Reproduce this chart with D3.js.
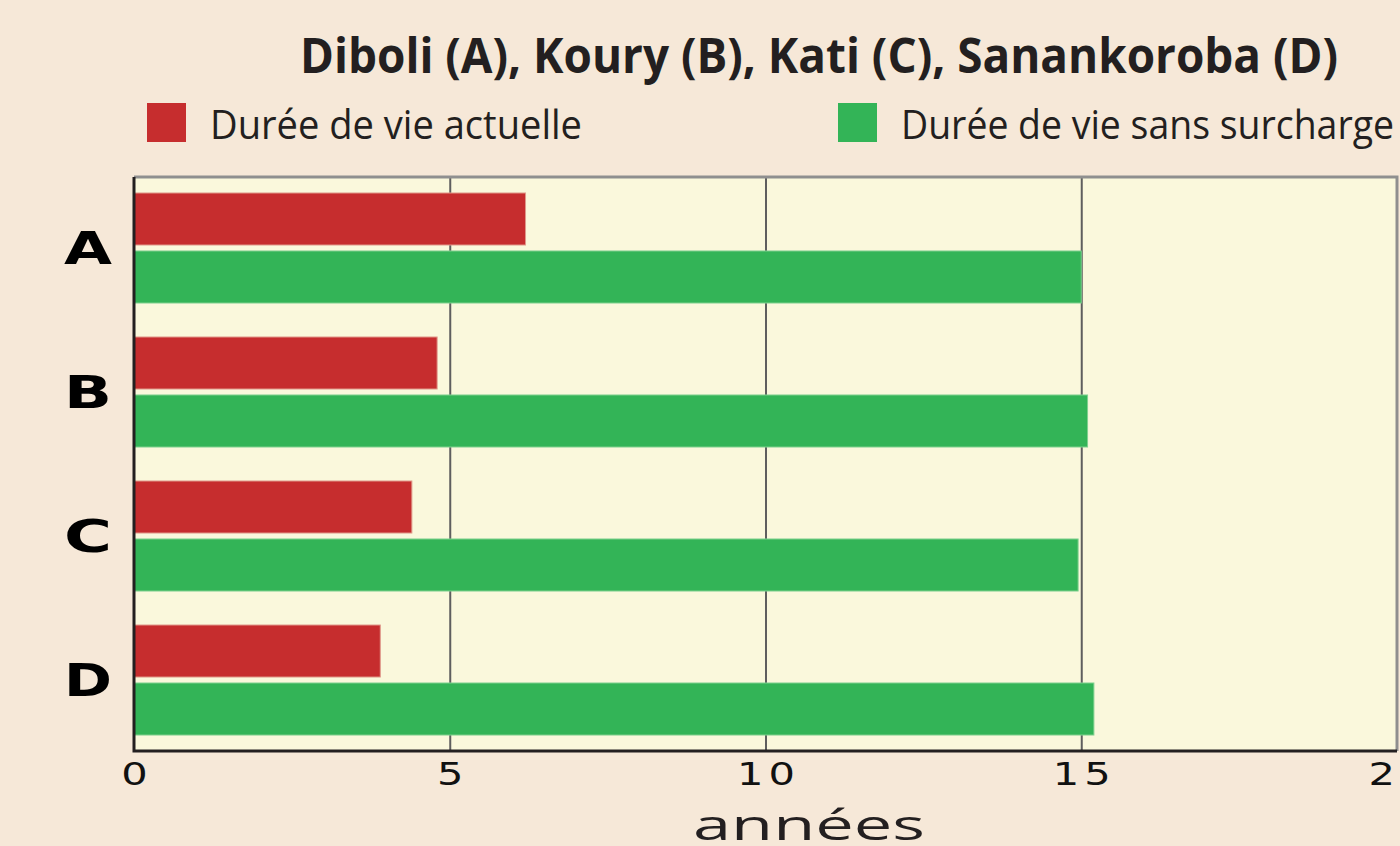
<!DOCTYPE html>
<html>
<head>
<meta charset="utf-8">
<script src="https://cdn.jsdelivr.net/npm/d3@7"></script>
<style>
  body { margin: 0; background: #f6e8d8; overflow: hidden; }
  svg { display: block; }
</style>
</head>
<body>
<svg id="chart" width="1400" height="846"></svg>
<script>
// data
const categories = ["A", "B", "C", "D"];
const seriesNames = ["Durée de vie actuelle", "Durée de vie sans surcharge"];
const actuelle = [6.2, 4.8, 4.4, 3.9];
const sansSurcharge = [15.0, 15.1, 14.95, 15.2];
const xTicks = [0, 5, 10, 15, 20];
const colors = ["#c62d2e", "#33b457"];

const title = "Diboli (A), Koury (B), Kati (C), Sanankoroba (D)";
const xLabel = "années";

var svg = d3.select("#chart");
var margin = {top: 177, left: 134, right: 3, bottom: 95};
var width = 1400, height = 846;

var x = d3.scaleLinear().domain([0, 20]).range([margin.left, 1397]);
var y = d3.scaleBand().domain(categories)
  .range([margin.top, height - margin.bottom])
  .paddingInner(0.236).paddingOuter(0.111);
var ySub = d3.scaleBand().domain([0, 1])
  .range([0, y.bandwidth()]).paddingInner(0.103);

var rows = categories.map(function(c, i) {
  return {cat: c, values: [actuelle[i], sansSurcharge[i]]};
});

// title
svg.append("text")
  .attr("x", 300).attr("y", 73)
  .attr("textLength", 1038).attr("lengthAdjust", "spacingAndGlyphs")
  .style("font-family", "'Open Sans', sans-serif")
  .style("font-weight", 700).style("font-size", "49px")
  .style("fill", "#231f20")
  .text(title);

// legend
var legendX = [147, 838];
var legendW = [372, 493];
seriesNames.forEach(function(name, i) {
  svg.append("rect")
    .attr("x", legendX[i]).attr("y", 103)
    .attr("width", 39).attr("height", 39)
    .style("fill", colors[i]);
  svg.append("text")
    .attr("x", legendX[i] + 63).attr("y", 139)
    .attr("textLength", legendW[i]).attr("lengthAdjust", "spacingAndGlyphs")
    .style("font-family", "'Open Sans', sans-serif")
    .style("font-size", "40px")
    .style("fill", "#231f20")
    .text(name);
});

// plot background
var y0 = margin.top, y1 = height - margin.bottom;
svg.append("rect")
  .attr("x", x(0)).attr("y", y0)
  .attr("width", x(20) - x(0)).attr("height", y1 - y0)
  .style("fill", "#faf8dc");

// gridlines
svg.append("g")
  .attr("transform", "translate(0," + y1 + ")")
  .call(d3.axisBottom(x).tickValues([5, 10, 15]).tickSize(-(y1 - y0)).tickFormat(""))
  .call(function(g) {
    g.select(".domain").remove();
    g.selectAll("line").style("stroke", "#5e5e5e").style("stroke-width", 2);
  });

// bars
var groups = svg.append("g").selectAll("g")
  .data(rows)
  .join("g")
  .attr("transform", function(d) { return "translate(0," + y(d.cat) + ")"; });

groups.selectAll("rect")
  .data(function(d) { return d.values; })
  .join("rect")
  .attr("x", x(0))
  .attr("y", function(d, i) { return ySub(i); })
  .attr("width", function(d) { return x(d) - x(0); })
  .attr("height", ySub.bandwidth())
  .style("fill", function(d, i) { return colors[i]; })
  .style("stroke", function(d, i) { return i == 0 ? "#e09a8c" : "#7fd08f"; })
  .style("stroke-width", 1);

// frame: gray top/right, dark left/bottom
svg.append("path")
  .attr("d", "M" + x(0) + "," + y0 + "H" + x(20) + "V" + y1)
  .style("fill", "none").style("stroke", "#8f8f8f").style("stroke-width", 3);
svg.append("path")
  .attr("d", "M" + x(0) + "," + y0 + "V" + y1 + "H" + x(20))
  .style("fill", "none").style("stroke", "#231f20").style("stroke-width", 3);

// category labels
svg.append("g").selectAll("text")
  .data(categories)
  .join("text")
  .attr("x", 88)
  .attr("y", function(d) { return y(d) + y.bandwidth() / 2 + 16; })
  .attr("text-anchor", "middle")
  .attr("textLength", 48).attr("lengthAdjust", "spacingAndGlyphs")
  .style("font-family", "'DejaVu Sans', sans-serif")
  .style("font-weight", 700).style("font-size", "44px")
  .style("fill", "#000")
  .text(function(d) { return d; });

// x axis labels
svg.append("g")
  .attr("transform", "translate(0," + y1 + ")")
  .call(d3.axisBottom(x).tickValues(xTicks).tickSize(0).tickPadding(11))
  .call(function(g) {
    g.select(".domain").remove();
    g.selectAll("text")
      .attr("dx", "2px")
      .attr("transform", "scale(1.3,1)")
      .style("font-family", "'DejaVu Sans', sans-serif")
      .style("font-size", "32px")
      .style("letter-spacing", "4px")
      .style("fill", "#111");
  });

svg.append("text")
  .attr("x", 693).attr("y", 840)
  .attr("textLength", 232).attr("lengthAdjust", "spacingAndGlyphs")
  .style("font-family", "'Open Sans', sans-serif")
  .style("font-size", "42px")
  .style("fill", "#231f20")
  .text(xLabel);
</script>
</body>
</html>
